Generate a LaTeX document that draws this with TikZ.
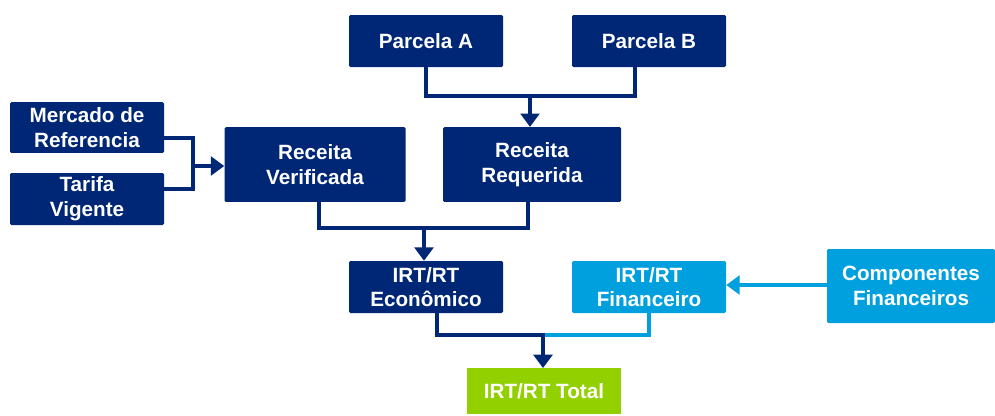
\documentclass[tikz,border=0pt]{standalone}
\usepackage{fontspec}
\setmainfont{Liberation Sans}
\usetikzlibrary{arrows.meta}

\definecolor{navyblk}{RGB}{0,39,118}
\definecolor{skyblk}{RGB}{0,160,222}
\definecolor{greenblk}{RGB}{146,208,0}

\tikzset{
  blk/.style={fill=navyblk, text=white, rounded corners=1pt, inner sep=0pt, align=center,
    font=\bfseries\fontsize{15.5}{18.5}\selectfont},
  conn/.style={draw=navyblk, line width=3.4pt},
  connarr/.style={conn, -{Triangle[width=14pt,length=10pt]}},
}

\begin{document}
\begin{tikzpicture}[x=0.75pt,y=0.75pt,yscale=-1,xscale=1]
%set diagram size
\path[use as bounding box] (0,0) rectangle (995,415);

%Shape: Rectangle [id:parcA]
\node[blk, minimum width=115.5pt, minimum height=39pt] (parcA) at (426,41) {Parcela A};
%Shape: Rectangle [id:parcB]
\node[blk, minimum width=115.5pt, minimum height=39pt] (parcB) at (649,41) {Parcela B};
%Shape: Rectangle [id:merc]
\node[blk, minimum width=115.5pt, minimum height=38pt] (merc) at (87,127.5) {Mercado de\\Referencia};
%Shape: Rectangle [id:tarifa]
\node[blk, minimum width=115.5pt, minimum height=39pt] (tarifa) at (87,199) {Tarifa\\Vigente};
%Shape: Rectangle [id:recVer]
\node[blk, minimum width=135.75pt, minimum height=56pt] (recVer) at (315,164.5) {Receita\\Verificada};
%Shape: Rectangle [id:recReq]
\node[blk, minimum width=133.5pt, minimum height=56pt] (recReq) at (532,164.5) {Receita\\Requerida};
%Shape: Rectangle [id:irtEco]
\node[blk, minimum width=115.5pt, minimum height=39pt] (irtEco) at (426,287) {IRT/RT\\Econômico};
%Shape: Rectangle [id:irtFin]
\node[blk, fill=skyblk, minimum width=115.5pt, minimum height=39pt] (irtFin) at (649,287) {IRT/RT\\Financeiro};
%Shape: Rectangle [id:comp]
\node[blk, fill=skyblk, minimum width=126pt, minimum height=55.5pt] (comp) at (911,286) {Componentes\\Financeiros};
%Shape: Rectangle [id:total]
\node[blk, fill=greenblk, rounded corners=0pt, minimum width=115.5pt, minimum height=34pt] (total) at (544,391) {IRT/RT Total};

%Joints
\coordinate (jP) at (530,96);
\coordinate (jM) at (193,166);
\coordinate (jR) at (424,228);
\coordinate (jT) at (543,335);

%Lines: Parcela A, B to Receita Requerida
\draw[conn] (parcA.south) |- (jP);
\draw[conn] ([xshift=-10.5pt]parcB.south) |- (jP);
\draw[connarr] ([yshift=1.7pt]jP) -- (jP |- recReq.north);
%Lines: Mercado, Tarifa to Receita Verificada
\draw[conn] ([yshift=7.9pt]merc.east) -| (jM);
\draw[conn] ([yshift=-7.5pt]tarifa.east) -| (jM);
\draw[connarr] ([xshift=-1.7pt]jM) -- (jM -| recVer.west);
%Lines: Receitas to IRT/RT Economico
\draw[conn] ([xshift=3pt]recVer.south) |- (jR);
\draw[conn] ([xshift=-3pt]recReq.south) |- (jR);
\draw[connarr] ([yshift=1.7pt]jR) -- (jR |- irtEco.north);
%Lines: Componentes to IRT/RT Financeiro
\draw[connarr, draw=skyblk] (comp.west |- 0,285) -- (irtFin.east |- 0,285);
%Lines: IRT/RT to Total
\draw[conn, draw=skyblk] (irtFin.south) |- (jT);
\draw[conn] ([xshift=8.25pt]irtEco.south) |- ([xshift=1.7pt]jT);
\draw[connarr] ([yshift=1.7pt]jT) -- (jT |- total.north);

\end{tikzpicture}
\end{document}
